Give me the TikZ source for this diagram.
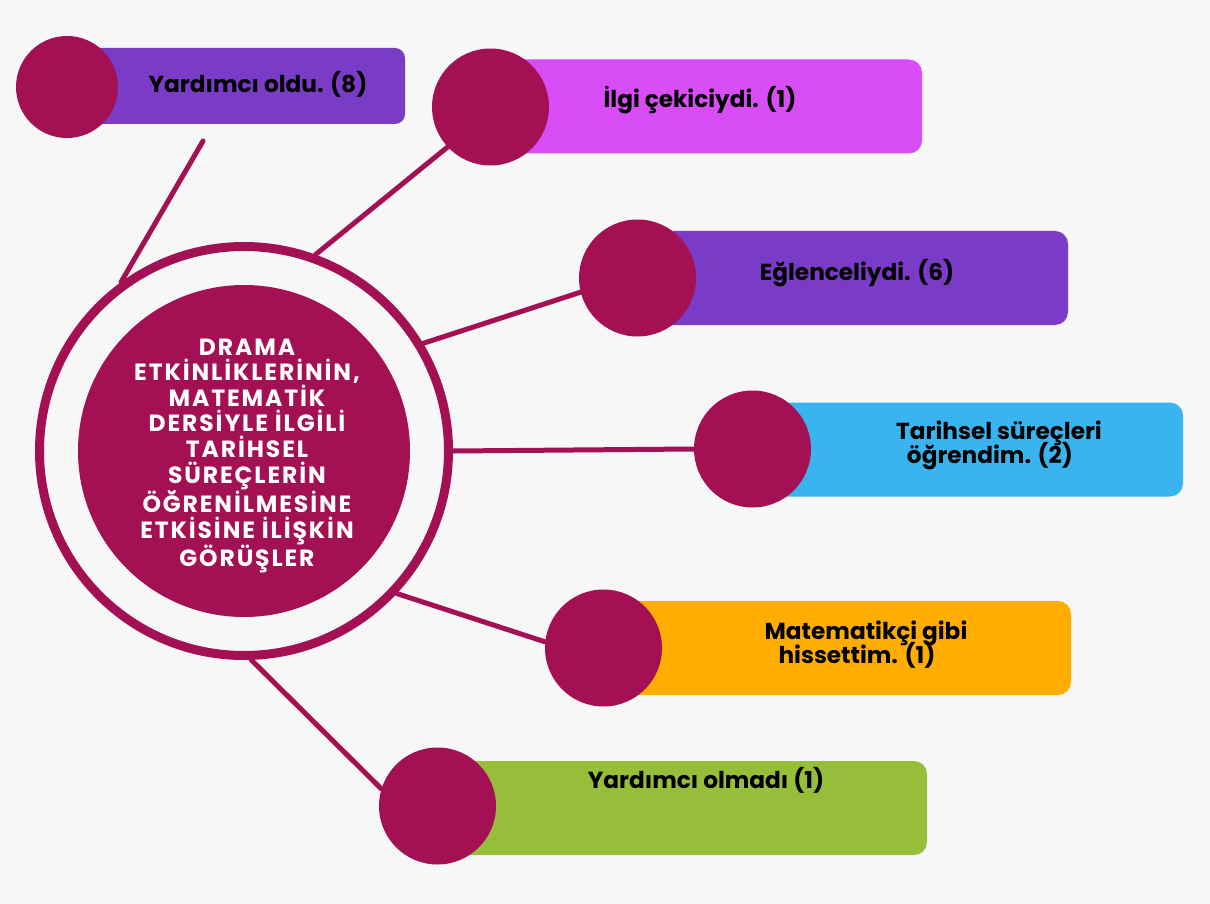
\documentclass[tikz,border=0pt]{standalone}
\usepackage{fontspec}
\setmainfont{Poppins}
\newfontfamily\labelfont{Poppins}
\newfontfamily\hubfont[LetterSpace=8]{Poppins}

\definecolor{berry}{RGB}{163,16,84}
\definecolor{violet}{RGB}{122,60,198}
\definecolor{orchid}{RGB}{216,77,245}
\definecolor{sky}{RGB}{58,180,238}
\definecolor{amber}{RGB}{255,173,0}
\definecolor{lime}{RGB}{151,190,58}
\definecolor{paper}{RGB}{247,247,247}

\begin{document}
\begin{tikzpicture}[x=1pt,y=-1pt,
  dot/.style={circle, fill=berry, minimum size=117pt, inner sep=0pt},
  bar/.style={rectangle, rounded corners=13pt, minimum height=94pt, inner sep=0pt},
  lbl/.style={font=\labelfont\bfseries\fontsize{23.2}{26}\selectfont, text=black, inner sep=0pt, anchor=base},
  link/.style={draw=berry, line width=5pt, line cap=round},
  hubtext/.style={font=\hubfont\bfseries\fontsize{23.5}{25.6}\selectfont, text=white, align=center, inner sep=0pt}]

% page
\fill[paper] (0,0) rectangle (1210,904);
\useasboundingbox (0,0) rectangle (1210,904);

% coloured answer bars
\node[bar, fill=violet, minimum width=338pt, minimum height=76pt, rounded corners=10pt] (b1) at (236,86) {};
\node[bar, fill=orchid, minimum width=432pt] (b2) at (706,106.5) {};
\node[bar, fill=violet, minimum width=431pt] (b3) at (852.5,278) {};
\node[bar, fill=sky,    minimum width=431pt] (b4) at (967.5,449.5) {};
\node[bar, fill=amber,  minimum width=468pt] (b5) at (837,648) {};
\node[bar, fill=lime,   minimum width=490pt] (b6) at (682,808) {};

% central ring and disc
\node[circle, draw=berry, line width=9pt, minimum size=409pt, inner sep=0pt] (ring) at (244,451) {};
\node[circle, fill=berry, minimum size=332pt, inner sep=0pt] (hub) at (244,451) {};

% round markers at the start of each bar
\node[dot, minimum size=102pt] (c1) at (67,87) {};
\node[dot] (c2) at (490.5,107) {};
\node[dot] (c3) at (637.5,278) {};
\node[dot] (c4) at (752.5,449) {};
\node[dot] (c5) at (603.5,648) {};
\node[dot] (c6) at (437.5,806) {};

% spokes
\coordinate (t1) at (203,141);
\draw[link] (ring.126) -- (t1);
\draw[link] (ring.70) -- (c2.223);
\draw[link] (ring.31) -- (c3.194);
\draw[link] (ring.0) -- (c4.180);
\draw[link] (ring.317) -- (c5.174);
\draw[link] (ring.272) -- (c6.163);

% centre title
\node[hubtext] (title) at (247,456) {DRAMA\\ETKİNLİKLERİNİN,\\MATEMATİK\\DERSİYLE İLGİLİ\\TARİHSEL\\SÜREÇLERİN\\ÖĞRENİLMESİNE\\ETKİSİNE İLİŞKİN\\GÖRÜŞLER};

% answer labels
\node[lbl] (l1) at (258,93) {Yardımcı oldu. (8)};
\node[lbl] (l2) at (700,108) {İlgi çekiciydi. (1)};
\node[lbl] (l3) at (857,280) {Eğlenceliydi. (6)};
\node[lbl] (l4a) at (999,439) {Tarihsel süreçleri};
\node[lbl] (l4b) at (990,463) {öğrendim. (2)};
\node[lbl] (l5a) at (866,639) {Matematikçi gibi};
\node[lbl] (l5b) at (857,663) {hissettim. (1)};
\node[lbl] (l6) at (706,788) {Yardımcı olmadı (1)};
\end{tikzpicture}
\end{document}
